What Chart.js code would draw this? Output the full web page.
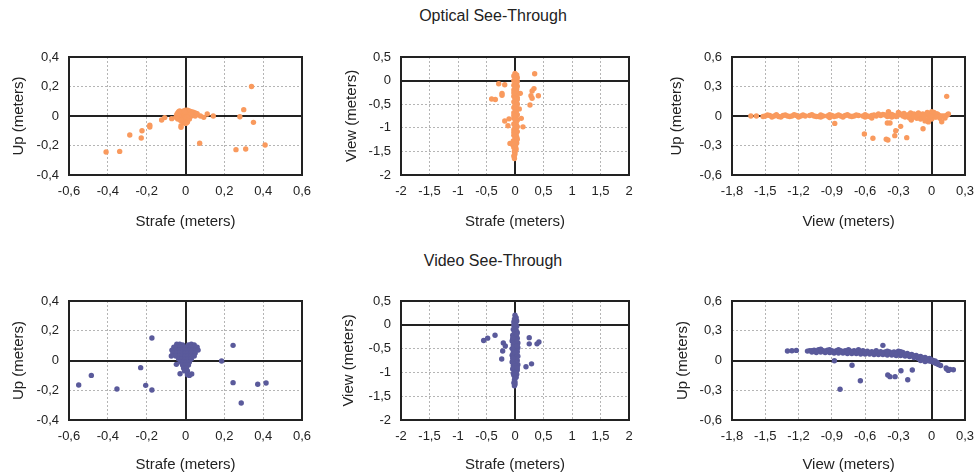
<!DOCTYPE html>
<html><head><meta charset="utf-8">
<script src="https://cdn.jsdelivr.net/npm/chart.js@4/dist/chart.umd.min.js"></script>
<style>
html,body{margin:0;padding:0;background:#fff;overflow:hidden;width:974px;height:475px;}
#wrap{position:relative;width:974px;height:475px;}
canvas{position:absolute;}
.ttl{position:absolute;left:0;width:986px;text-align:center;font:16px "Liberation Sans",Arial,sans-serif;color:#222;line-height:20px;}
</style></head>
<body><div id="wrap">
<div class="ttl" style="top:6px">Optical See-Through</div>
<div class="ttl" style="top:251px">Video See-Through</div>
</div>
<script>
// ---- axis ranges [min, max, step] ----
const strafeNarrow = [-0.6, 0.6, 0.2];
const upNarrow = [-0.4, 0.4, 0.2];
const strafeWide = [-2, 2, 0.5];
const viewTall = [-2, 0.5, 0.5];
const viewWide = [-1.8, 0.3, 0.3];
const upWide = [-0.6, 0.6, 0.3];

// ---- Optical See-Through: Strafe vs Up ----
const opticalStrafeUp = [
[0.34,0.20],[0.30,0.043],[0.28,-0.005],[0.35,-0.043],[0.41,-0.197],[0.31,-0.224],[0.26,-0.228],
[0.073,-0.185],[0.143,0.0],[0.112,0.014],[0.094,-0.009],[0.077,0.0],[-0.107,-0.011],[-0.123,-0.027],
[-0.071,-0.018],[-0.05,-0.009],[-0.184,-0.063],[-0.184,-0.075],[-0.224,-0.1],[-0.228,-0.149],
[-0.287,-0.129],[-0.339,-0.24],[-0.409,-0.244],[-0.023,-0.066],[-0.023,-0.077],
[-0.04,0.02],[-0.035,0.03],[-0.03,0.035],[-0.025,0.01],[-0.02,0.03],[-0.02,0.0],[-0.015,-0.01],
[-0.01,0.035],[-0.01,0.02],[-0.01,0.0],[-0.005,-0.02],[-0.005,0.01],[0,0.04],[0,0.025],[0,0.0],
[0,-0.015],[0,-0.03],[0.005,0.03],[0.005,-0.005],[0.01,0.04],[0.01,0.015],[0.01,-0.01],[0.01,-0.04],
[0.015,0.03],[0.015,0.0],[0.02,0.035],[0.02,0.02],[0.02,-0.02],[0.025,0.01],[0.03,0.03],[0.03,0.0],
[0.035,0.02],[0.04,0.025],[0.04,0.005],[0.045,0.015],[0.05,0.02],[0.05,0.0],[0.055,0.01],[0.06,0.015],
[-0.03,-0.01],[-0.035,0.0],[-0.045,0.01],[-0.04,-0.02],[-0.025,-0.03],[-0.01,-0.04],[0.0,-0.05],
[0.005,-0.045],[0.02,0.0],[0.03,0.015],[-0.005,0.03]
];

// ---- Optical See-Through: Strafe vs View ----
const opticalStrafeView = [
[0.345,0.146],[0.333,-0.17],[0.30,-0.22],[0.28,-0.32],[0.41,-0.32],[0.30,-0.375],[0.263,-0.517],
[0.093,-0.27],[0.075,-0.60],[0.14,-0.98],[0.11,-0.80],[-0.286,-0.066],[-0.18,-0.087],[-0.228,-0.27],
[-0.228,-0.31],[-0.41,-0.39],[-0.345,-0.40],[-0.105,-0.81],[-0.18,-0.856],[-0.123,-0.955],[-0.088,-1.33],
[0.0,0.15],[0.03,0.12],[-0.02,0.1],[0.04,0.06],[0.01,0.04],[-0.02,0.0],[0.04,-0.02],[0.01,-0.06],
[-0.02,-0.1],[0.04,-0.12],[0.01,-0.16],[-0.02,-0.2],[0.03,-0.24],[0.0,-0.28],[-0.02,-0.33],[0.04,-0.36],
[0.01,-0.4],[-0.02,-0.45],[0.03,-0.48],[0.0,-0.52],[-0.02,-0.57],[0.04,-0.6],[0.01,-0.64],[-0.02,-0.68],
[0.03,-0.72],[0.0,-0.76],[-0.02,-0.8],[0.04,-0.84],[0.01,-0.88],[-0.02,-0.92],[0.03,-0.96],[0.0,-1.0],
[-0.02,-1.04],[0.04,-1.08],[0.01,-1.12],[-0.02,-1.16],[0.03,-1.2],[0.0,-1.24],[-0.03,-1.28],[0.03,-1.32],
[-0.04,-1.36],[0.01,-1.38],[-0.02,-1.42],[0.02,-1.45],[-0.01,-1.5],[0.0,-1.55],[-0.02,-1.6],[-0.01,-1.65],
[0.02,0.08],[0.0,0.02],[0.02,-0.04],[0.0,-0.08],[0.02,-0.14],[0.03,-0.18],[0.0,-0.22],[0.02,-0.3],
[0.01,-0.34],[0.02,-0.42],[0.0,-0.46],[0.02,-0.55],[0.01,-0.58],[0.02,-0.66],[0.0,-0.7],[0.02,-0.78],
[0.01,-0.82],[0.02,-0.9],[0.0,-0.94],[0.02,-1.02],[0.01,-1.06],[0.02,-1.14],[0.0,-1.18],[0.02,-1.26],
[0.0,-1.3],[-0.01,-1.34],[0.0,-1.42],[0.01,-1.48],[-0.01,-1.58],[0.0,-0.12],[0.0,-0.38],[0.04,-0.4],
[0.04,-0.72],[-0.02,-0.74],[0.04,-0.98],[-0.02,-1.1],[0.04,-1.24],[0.04,-0.5],[0.04,-0.28],[-0.02,-0.26]
];

// ---- Optical See-Through: View vs Up ----
const opticalViewUp = [
[0.135,0.20],[-1.63,0.0],[-1.58,0.0],[-0.607,-0.183],[-0.53,-0.227],[-0.41,-0.237],[-0.395,-0.244],
[-0.324,-0.15],[-0.333,-0.2],[-0.28,-0.105],[-0.225,-0.22],[-0.40,-0.071],[-0.376,-0.071],
[-0.874,-0.075],[-0.078,-0.13],[-0.184,-0.04],
[-1.5,0.0],[-1.46,0.005],[-1.42,0.0],[-1.38,-0.005],[-1.34,0.005],[-1.3,0.0],[-1.26,0.0],[-1.22,0.005],
[-1.18,0.0],[-1.14,0.0],[-1.1,0.005],[-1.06,0.0],[-1.02,-0.005],[-0.98,0.0],[-0.94,0.0],[-0.9,0.005],
[-0.86,0.0],[-0.82,0.0],[-0.78,0.005],[-0.74,0.0],[-0.7,0.0],[-0.66,0.005],[-0.62,0.0],[-0.58,0.0],
[-0.54,0.005],[-0.5,0.0],[-0.46,0.005],[-0.42,0.01],[-0.38,0.0],[-0.34,0.005],[-0.3,0.01],[-0.26,0.0],
[-0.22,0.01],[-0.18,0.005],[-0.14,0.01],[-0.1,0.0],[-0.06,0.005],[-0.02,0.01],[0.02,0.0],[0.06,0.01],
[0.1,0.0],[0.14,0.01],
[-1.44,-0.01],[-1.36,-0.01],[-1.2,-0.01],[-1.0,-0.01],[-0.92,-0.015],[-0.8,-0.01],[-0.6,-0.01],
[-0.48,0.02],[-0.39,0.044],[-0.30,0.037],[-0.36,-0.01],[-0.19,0.03],[-0.25,0.025],[-0.2,-0.02],
[-0.16,0.02],[-0.12,0.03],[-0.1,-0.03],[-0.08,0.02],[-0.05,-0.04],[-0.04,0.035],[-0.02,-0.02],
[0.0,0.044],[0.0,-0.03],[0.02,0.035],[0.03,-0.01],[0.05,0.02],[0.075,-0.023],[0.09,-0.058],
[0.12,-0.02],[0.15,0.02],[-0.03,-0.06],[-0.06,-0.05],[-0.135,-0.024],[-0.54,-0.02],
[-1.48,0.01],[-1.4,0.012],[-1.32,0.01],[-1.24,0.012],[-1.16,0.01],[-1.08,0.012],[-1.0,0.01],[-0.92,0.012],
[-0.84,0.01],[-0.76,0.012],[-0.68,0.01],[-0.6,0.012],[-0.52,0.01],[-0.44,0.015],[-0.36,0.015],[-0.28,0.02],
[-0.2,0.015],[-0.12,0.015],[-0.04,0.02],[0.04,0.02],[0.08,0.0],[0.12,0.0],[-0.16,-0.01],[-0.24,-0.01],
[-0.32,-0.005],[-0.4,-0.005],[-0.56,-0.005],[-0.72,-0.005],[-0.88,-0.005],[-1.04,-0.005],[-1.28,-0.005],
[-1.52,-0.005],[-0.07,-0.01],[-0.01,0.0],[0.04,-0.01]
];

// ---- Video See-Through: Strafe vs Up ----
const videoStrafeUp = [
[-0.173,0.151],[0.245,0.102],[0.186,-0.003],[0.245,-0.149],[0.372,-0.16],[0.415,-0.151],[0.287,-0.286],
[-0.485,-0.10],[-0.55,-0.165],[-0.353,-0.192],[-0.231,-0.048],[-0.205,-0.167],[-0.173,-0.198],
[-0.045,0.11],[-0.03,0.11],[-0.015,0.105],[0.015,0.105],[0.03,0.11],[0.045,0.105],
[-0.06,0.09],[-0.045,0.09],[-0.03,0.09],[-0.015,0.09],[0,0.09],[0.015,0.09],[0.03,0.09],[0.045,0.09],[0.06,0.09],
[-0.07,0.07],[-0.05,0.07],[-0.035,0.07],[-0.02,0.07],[0,0.07],[0.02,0.07],[0.035,0.07],[0.05,0.07],[0.065,0.07],
[-0.065,0.05],[-0.045,0.05],[-0.03,0.05],[-0.015,0.05],[0,0.05],[0.015,0.05],[0.03,0.05],[0.05,0.05],
[-0.05,0.03],[-0.03,0.03],[-0.015,0.03],[0,0.03],[0.015,0.03],[0.03,0.03],[0.045,0.03],
[-0.035,0.01],[-0.02,0.01],[0,0.01],[0.015,0.01],[0.03,0.01],
[-0.025,-0.01],[-0.01,-0.01],[0.005,-0.01],[0.02,-0.01],
[-0.015,-0.03],[0,-0.03],[0.015,-0.03],[-0.01,-0.05],[0.005,-0.05],[-0.005,-0.07],[0.01,-0.07],
[-0.028,-0.089],[0.032,-0.091],[0.02,-0.1],[0.01,-0.095],[-0.047,-0.026],[-0.073,0.03]
];

// ---- Video See-Through: Strafe vs View ----
const videoStrafeView = [
[-0.55,-0.33],[-0.48,-0.28],[-0.35,-0.22],[-0.205,-0.38],[-0.17,-0.445],[-0.216,-0.55],[-0.233,-0.72],
[0.25,-0.27],[0.25,-0.40],[0.386,-0.40],[0.42,-0.36],[0.29,-0.82],[0.193,-0.88],
[0.0,0.2],[0.02,0.15],[-0.01,0.12],[0.03,0.08],[-0.02,0.06],[0.01,0.03],[-0.02,-0.01],[0.03,-0.03],
[0.0,-0.06],[-0.03,-0.1],[0.02,-0.12],[0.04,-0.16],[-0.01,-0.18],[-0.04,-0.22],[0.02,-0.24],[0.04,-0.28],
[-0.02,-0.3],[-0.05,-0.34],[0.01,-0.36],[0.05,-0.38],[-0.03,-0.42],[0.02,-0.44],[0.05,-0.48],[-0.05,-0.5],
[0.0,-0.52],[0.04,-0.56],[-0.03,-0.58],[0.02,-0.62],[-0.05,-0.64],[0.05,-0.66],[0.0,-0.7],[-0.03,-0.73],
[0.04,-0.75],[-0.05,-0.78],[0.01,-0.8],[0.05,-0.84],[-0.03,-0.86],[0.02,-0.9],[-0.04,-0.93],[0.04,-0.95],
[0.0,-0.98],[-0.03,-1.02],[0.03,-1.04],[0.0,-1.08],[-0.01,-1.16],[-0.02,-1.22],[-0.01,-1.28],[0.0,-1.2],
[0.01,0.1],[0.0,0.0],[0.01,-0.09],[0.0,-0.14],[0.02,-0.2],[0.0,-0.26],[0.01,-0.32],[-0.02,-0.38],
[0.03,-0.34],[0.0,-0.4],[-0.01,-0.46],[0.02,-0.5],[-0.02,-0.54],[0.03,-0.6],[0.0,-0.6],[-0.02,-0.68],
[0.02,-0.68],[0.02,-0.72],[-0.01,-0.76],[0.03,-0.8],[-0.02,-0.82],[0.0,-0.86],[0.02,-0.94],[-0.01,-0.9],
[0.01,-1.0],[0.02,-1.1],[-0.02,-1.06],[0.0,-1.12],[0.0,-1.25],[-0.02,-0.46],[0.04,-0.44],[-0.04,-0.7],
[0.04,-0.9],[-0.04,-0.28],[0.03,-0.2]
];

// ---- Video See-Through: View vs Up ----
const videoViewUp = [
[-1.30,0.096],[-1.26,0.099],[-1.22,0.102],[-0.44,0.153],[-0.877,-0.002],[-0.718,-0.048],[-0.643,-0.204],
[-0.826,-0.29],[-0.396,-0.146],[-0.376,-0.163],[-0.33,-0.163],[-0.277,-0.103],[-0.175,-0.096],[-0.216,-0.194],
[0.135,-0.086],[0.165,-0.089],[0.195,-0.093],[0.15,-0.1],[0.13,-0.075],
[-1.1,0.1],[-1.06,0.105],[-1.02,0.11],[-0.98,0.1],[-0.94,0.105],[-0.9,0.1],[-0.86,0.1],[-0.82,0.1],
[-0.78,0.1],[-0.74,0.1],[-0.7,0.1],[-0.66,0.095],[-0.62,0.1],[-0.58,0.095],[-0.54,0.09],[-0.5,0.09],
[-0.46,0.09],[-0.42,0.085],[-0.38,0.085],[-0.34,0.085],[-0.3,0.08],[-0.26,0.08],[-0.22,0.07],[-0.18,0.06],
[-0.14,0.05],[-0.1,0.04],[-0.06,0.03],[-0.02,0.02],
[-1.08,0.085],[-1.04,0.08],[-1.0,0.085],[-0.96,0.08],[-0.92,0.08],[-0.88,0.075],[-0.84,0.075],[-0.8,0.075],
[-0.76,0.07],[-0.72,0.07],[-0.68,0.07],[-0.64,0.065],[-0.6,0.065],[-0.56,0.065],[-0.52,0.06],[-0.48,0.06],
[-0.44,0.06],[-0.4,0.055],[-0.36,0.055],[-0.32,0.05],[-0.28,0.05],[-0.24,0.045],[-0.2,0.04],[-0.16,0.03],
[-0.12,0.02],[-0.08,0.01],[-0.04,0.0],[0,-0.01],[0.02,-0.02],[0.04,-0.03],[0.06,-0.04],[0.08,-0.05],
[-0.06,-0.01],[-0.1,0.0],[-1.0,0.115],[-0.75,0.11],[-0.3,0.095],[0.01,0.0],[-0.02,-0.005],
[-1.12,0.095],[-1.08,0.1],[-1.04,0.095],[-1.0,0.1],[-0.96,0.095],[-0.92,0.09],[-0.88,0.09],[-0.84,0.088],
[-0.8,0.088],[-0.76,0.085],[-0.72,0.085],[-0.68,0.085],[-0.64,0.08],[-0.6,0.08],[-0.56,0.078],[-0.52,0.075],
[-0.48,0.075],[-0.44,0.072],[-0.4,0.07],[-0.36,0.07],[-0.32,0.067],[-0.28,0.065],[-0.24,0.06],[-0.2,0.055],
[-0.16,0.045],[-0.12,0.035],[-0.08,0.025],[-0.04,0.015],[0.0,0.005],[0.03,-0.005],[0.05,-0.02],
[-0.92,0.11],[-0.84,0.11],[-0.66,0.108],[-0.5,0.1],[-0.4,0.095],[-0.28,0.09]
];

const ORANGE = '#F99A5E';
const PURPLE = '#5A5A9B';
const FONT = '"Liberation Sans", Arial, sans-serif';

function fmt(v){ const r = Math.round(v*10)/10; return (r===0?0:r).toString().replace('.', ','); }

function axis(range, title, fitSize, isX){
  return {
    type:'linear', min:range[0], max:range[1],
    ticks:{stepSize:range[2], autoSkip:false, maxRotation:0, minRotation:0, padding:isX?9:10,
      color:'#222', font:{family:FONT, size:13}, callback:fmt},
    grid:{color:'#b5b5b5', lineWidth:1, drawTicks:false},
    border:{display:false, dash:[2,2]},
    title:{display:true, text:title, color:'#222', font:{family:FONT, size:15}, padding:0},
    afterFit(s){ if(isX) s.height = fitSize; else s.width = fitSize; }
  };
}

const framePlugin = {
  id:'frame',
  beforeDatasetsDraw(chart){
    const {ctx, chartArea:a, scales} = chart;
    const x0 = Math.round(scales.x.getPixelForValue(0));
    const y0 = Math.round(scales.y.getPixelForValue(0));
    ctx.save();
    ctx.strokeStyle = '#222'; ctx.lineWidth = 2;
    ctx.beginPath();
    ctx.moveTo(x0, a.top); ctx.lineTo(x0, a.bottom);
    ctx.moveTo(a.left, y0); ctx.lineTo(a.right, y0);
    ctx.stroke();
    ctx.strokeRect(Math.round(a.left), Math.round(a.top), Math.round(a.width), Math.round(a.height));
    ctx.restore();
  }
};

const panels = [
  {data:opticalStrafeUp, color:ORANGE, xr:strafeNarrow, yr:upNarrow, xt:'Strafe (meters)', yt:'Up (meters)',
   left:0, top:30, w:325, h:205, pad:{left:10, top:27, right:23, bottom:4}, yw:59, xh:56},
  {data:opticalStrafeView, color:ORANGE, xr:strafeWide, yr:viewTall, xt:'Strafe (meters)', yt:'View (meters)',
   left:325, top:30, w:330, h:205, pad:{left:18, top:27, right:26, bottom:4}, yw:58, xh:56},
  {data:opticalViewUp, color:ORANGE, xr:viewWide, yr:upWide, xt:'View (meters)', yt:'Up (meters)',
   left:655, top:30, w:345, h:205, pad:{left:13, top:27, right:35, bottom:4}, yw:64, xh:56},
  {data:videoStrafeUp, color:PURPLE, xr:strafeNarrow, yr:upNarrow, xt:'Strafe (meters)', yt:'Up (meters)',
   left:0, top:275, w:325, h:200, pad:{left:10, top:26, right:23, bottom:1}, yw:59, xh:54},
  {data:videoStrafeView, color:PURPLE, xr:strafeWide, yr:viewTall, xt:'Strafe (meters)', yt:'View (meters)',
   left:325, top:275, w:330, h:200, pad:{left:15, top:26, right:26, bottom:1}, yw:61, xh:54},
  {data:videoViewUp, color:PURPLE, xr:viewWide, yr:upWide, xt:'View (meters)', yt:'Up (meters)',
   left:655, top:275, w:345, h:200, pad:{left:19, top:26, right:35, bottom:1}, yw:58, xh:54}
];

const wrap = document.getElementById('wrap');
panels.forEach(p => {
  const c = document.createElement('canvas');
  c.width = p.w; c.height = p.h;
  c.style.left = p.left + 'px'; c.style.top = p.top + 'px';
  c.style.width = p.w + 'px'; c.style.height = p.h + 'px';
  wrap.appendChild(c);
  new Chart(c, {
    type:'scatter',
    data:{datasets:[{data:p.data.map(d => ({x:d[0], y:d[1]})), backgroundColor:p.color,
      pointRadius:2.7, pointHoverRadius:2.7, borderWidth:0, pointBorderWidth:0}]},
    options:{
      responsive:false, animation:false, devicePixelRatio:1,
      layout:{padding:p.pad},
      plugins:{legend:{display:false}, tooltip:{enabled:false}},
      scales:{ x:axis(p.xr, p.xt, p.xh, true), y:axis(p.yr, p.yt, p.yw, false) }
    },
    plugins:[framePlugin]
  });
});
</script>
</body></html>
